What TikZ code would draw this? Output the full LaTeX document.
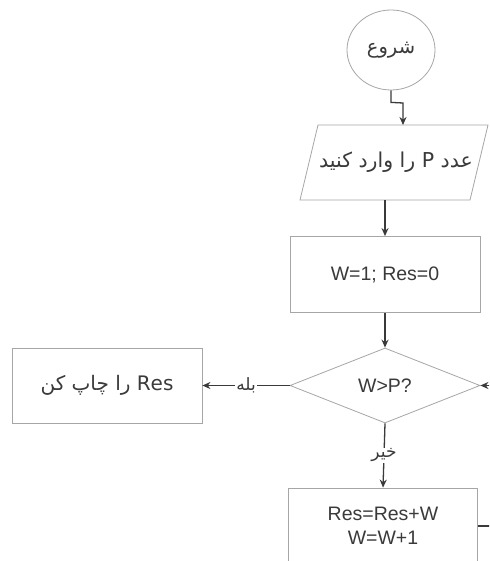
\documentclass[tikz,border=0pt]{standalone}
\usepackage{fontspec}
\setmainfont{Liberation Sans}
\newfontfamily\arabicfont[Script=Arabic]{DejaVu Sans}
\TeXXeTstate=1
\usetikzlibrary{shapes.geometric,arrows.meta,calc}
\definecolor{edgegray}{HTML}{A6A6A6}
\definecolor{linegray}{HTML}{3A3A3A}
\definecolor{txtgray}{HTML}{3A3A3A}
\begin{document}
\begin{tikzpicture}[x=1pt,y=-1pt,
		every node/.style={text=txtgray,font=\fontsize{19.5}{24}\selectfont},
		startstop/.style={draw=edgegray,line width=0.8pt,ellipse,minimum width=88,minimum height=80},
		io/.style={inner sep=2pt},
		process/.style={draw=edgegray,line width=0.8pt,rectangle,minimum width=190,minimum height=76},
		decision/.style={draw=edgegray,line width=0.8pt,diamond,shape aspect=2.5,minimum width=190,minimum height=75},
		arr/.style={draw=linegray,line width=1.3pt,-{Stealth[length=8pt,width=7pt]}},
		lbl/.style={midway,fill=white,inner sep=1pt,font=\arabicfont\fontsize{17}{20}\selectfont}]
		\clip (0,0) rectangle (489,561);
		\fill[white] (0,0) rectangle (489,561);
		\node[startstop] (start) at (391,50) {\arabicfont\beginR شروع\endR};
		\node[io] (input) at (396,162.5) {\arabicfont\fontsize{20.5}{24}\selectfont\beginR عدد P را وارد کنید\endR};
		\draw[edgegray,line width=0.8pt] ($(input)+(-96,37.5)$) -- ++(170,0) -- ++(18,-75) -- ++(-170,0) -- cycle;
		\node[process] (init) at (385,274.5) {W=1; Res=0};
		\node[decision] (test) at (385,385.5) {W>P?};
		\node[process,minimum height=75] (print) at (107,385.5) {\arabicfont\fontsize{20}{24}\selectfont\beginR\beginL Res\endL{} را چاپ کن\endR};
		\node[process,align=center,minimum width=189,minimum height=76] (update) at (383,526) {Res=Res+W\\W=W+1};
		\coordinate (intop) at ($(input)+(7,-37.5)$);
		\coordinate (inbot) at ($(input)+(-11,37.5)$);
		\coordinate (loopin) at (505,385.5);
		\coordinate (loopout) at (505,526);
		\draw[arr] (start.south) -- ++(0,12) -- ($(intop)+(0,-22)$) -- (intop);
		\draw[arr] (inbot) -- (inbot |- init.north);
		\draw[arr] (init.south) -- (test.north);
		\draw[arr] (test.west) -- node[lbl] {\beginR بله\endR} (print.east);
		\draw[arr] (test.south) -- node[lbl] {\beginR خیر\endR} (update.north);
		\draw[arr] (loopin) -- (test.east);
		\draw[draw=linegray,line width=1.3pt] (update.east) -- (loopout);
\end{tikzpicture}
\end{document}
